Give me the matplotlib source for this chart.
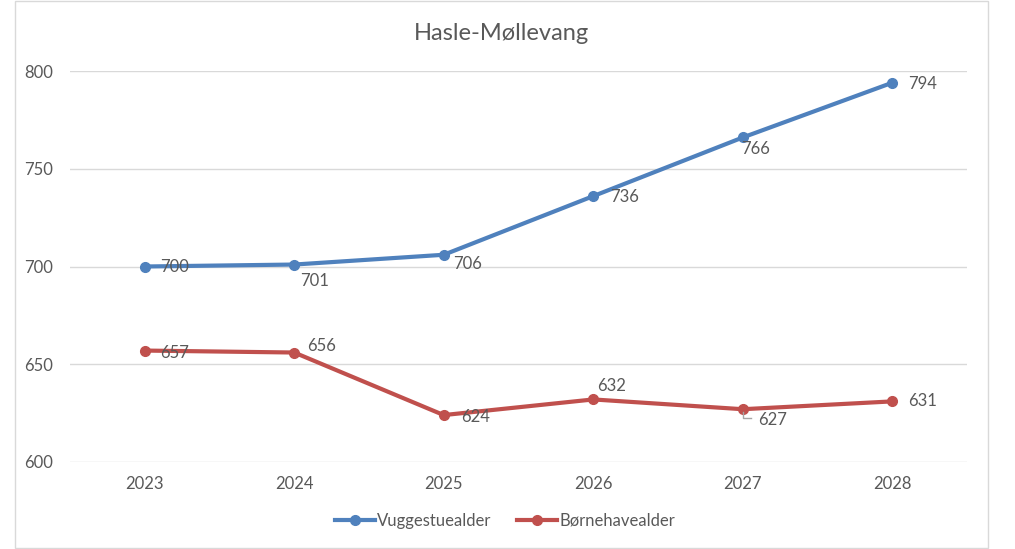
import matplotlib
matplotlib.use("Agg")
import matplotlib.pyplot as plt
from matplotlib.patches import Rectangle
from matplotlib.lines import Line2D

years = ["2023", "2024", "2025", "2026", "2027", "2028"]
vuggestue = [700, 701, 706, 736, 766, 794]
boernehave = [657, 656, 624, 632, 627, 631]
title = "Hasle-Møllevang"
series_names = ["Vuggestuealder", "Børnehavealder"]
y_ticks = [600, 650, 700, 750, 800]

blue = "#4F81BD"
red = "#C0504D"
txt = "#595959"
grid = "#D9D9D9"

plt.rcParams['font.family'] = ['Lato', 'DejaVu Sans']

fig = plt.figure(figsize=(10.15, 5.49), dpi=100)
W, H = 1015, 549
ax = fig.add_axes([70 / W, 1 - 462 / H, (967 - 70) / W, (462 - 71) / H])

x = list(range(len(years)))
ax.plot(x, vuggestue, color=blue, lw=3, marker='o', ms=7, solid_capstyle='round', zorder=3)
ax.plot(x, boernehave, color=red, lw=3, marker='o', ms=7, solid_capstyle='round', zorder=3)

ax.set_xlim(-0.5, len(years) - 0.5)
ax.set_ylim(600, 800)
ax.set_yticks(y_ticks)
ax.set_xticks(x)
ax.set_xticklabels(years)
ax.grid(axis='y', color=grid, lw=1)
ax.set_axisbelow(True)
for s in ax.spines.values():
    s.set_visible(False)
ax.tick_params(length=0, labelsize=12, labelcolor=txt)
ax.tick_params(axis='y', pad=12)
ax.tick_params(axis='x', pad=10)

# data label offsets in pixels (dx, dy)
off_v = [(15, -1), (6, -16), (9, -9), (17, -1), (-2, -12), (16, -1)]
off_b = [(15, -2), (13, 7), (17, -2), (4, 13), (15, -11), (16, 0)]
for xi, v, o in zip(x, vuggestue, off_v):
    ax.annotate(str(v), (xi, v), xytext=o, textcoords='offset pixels',
                ha='left', va='center', fontsize=12, color=txt, zorder=4)
for xi, v, o in zip(x, boernehave, off_b):
    ax.annotate(str(v), (xi, v), xytext=o, textcoords='offset pixels',
                ha='left', va='center', fontsize=12, color=txt, zorder=4)

# leader line for 627 label
lx = ax.transData.transform((4, boernehave[4]))
fx0 = lx[0] / W
fy0 = lx[1] / H
fig.add_artist(Line2D([fx0, fx0, fx0 + 8 / W], [fy0 - 3 / H, fy0 - 9 / H, fy0 - 9 / H],
                      color="#A6A6A6", lw=1, zorder=2))

fig.text(502 / W, 1 - 33 / H, title, ha='center', va='center', fontsize=17, color=txt)

handles = [Line2D([], [], color=blue, lw=3, marker='o', ms=7),
           Line2D([], [], color=red, lw=3, marker='o', ms=7)]
fig.legend(handles, series_names, loc='center', bbox_to_anchor=(505 / W, 1 - 521 / H),
           ncol=2, frameon=False, fontsize=12, labelcolor=txt, handlelength=2.4,
           handletextpad=0.15, columnspacing=1.5)

fig.add_artist(Rectangle((15 / W, 1 / H), (988 - 15) / W, (548 - 1) / H,
                         transform=fig.transFigure, fill=False, edgecolor=grid, lw=1))

fig.savefig("out.png", dpi=100)
